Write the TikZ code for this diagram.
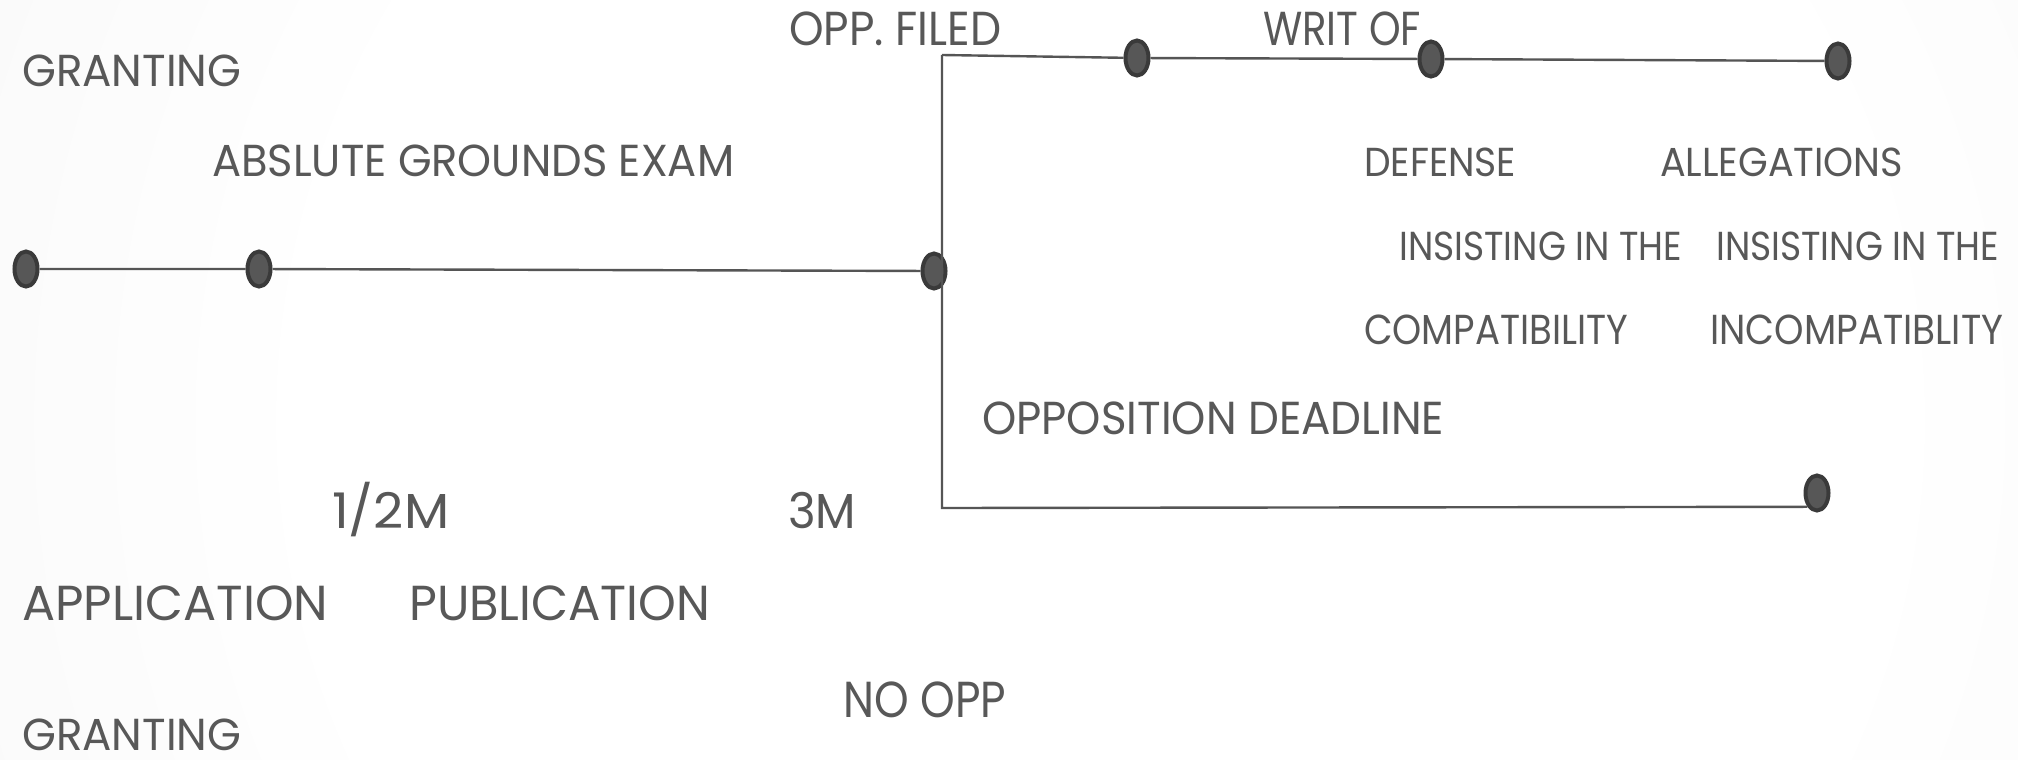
\documentclass[tikz,border=0pt]{standalone}
\usepackage{fontspec}
\setmainfont{Poppins}
\usepackage{graphicx}
\usetikzlibrary{shapes.geometric}

\definecolor{txtgray}{HTML}{585858}
\definecolor{linegray}{HTML}{555555}
\definecolor{dotfill}{HTML}{575757}
\definecolor{dotrim}{HTML}{3A3A3A}
\definecolor{bgedge}{HTML}{E6E6E6}

% soft light background glow
\pgfdeclareradialshading{bgglow}{\pgfpoint{0bp}{0bp}}{color(0bp)=(white); color(14bp)=(white); color(50bp)=(bgedge)}

% label text stretched to a given width and cap height (pt)
\newcommand\fitted[3]{\resizebox{#1pt}{#2pt}{\vphantom{M}\smash{#3}}}

\begin{document}
\begin{tikzpicture}[x=1pt,y=-1pt,
  dot/.style={ellipse, draw=dotrim, fill=dotfill, line width=4pt,
              minimum width=23pt, minimum height=35pt, inner sep=0pt},
  conn/.style={draw=linegray, line width=2.4pt},
  lbl/.style={anchor=base west, inner sep=0pt, text=txtgray}]

% page and background
\useasboundingbox (0,0) rectangle (2018,760);
\begin{scope}
  \clip (0,0) rectangle (2018,760);
  \fill[bgedge] (0,0) rectangle (2018,760);
  \shade[shading=bgglow] (1100,420) circle (1400);
\end{scope}

% timeline points
\node[dot] (app) at (26,269) {};
\node[dot] (pub) at (259,269) {};
\node[dot] (dl)  at (934,271) {};
\node[dot] (opA) at (1137,58) {};
\node[dot] (opB) at (1431,59) {};
\node[dot] (opC) at (1838,61) {};
\node[dot] (noE) at (1817,493) {};
\coordinate (fork)  at (942,55);
\coordinate (forkb) at (942,508);

% connectors
\draw[conn] (app) -- (pub) -- (dl);
\draw[conn] (fork) -- (opA) -- (opB) -- (opC);
\draw[conn] (fork) -- (forkb) -- (noE.south west);

% labels
\node[lbl] (gr1)  at (22,87)    {\fitted{219}{31}{GRANTING}};
\node[lbl] (abs)  at (212,176)  {\fitted{522}{31}{ABSLUTE GROUNDS EXAM}};
\node[lbl] (oppf) at (789,46)   {\fitted{212}{33}{OPP. FILED}};
\node[lbl] (writ) at (1263,46)  {\fitted{158}{33}{WRIT OF}};
\node[lbl] (def)  at (1364,176) {\fitted{152}{28}{DEFENSE}};
\node[lbl] (all)  at (1660,176) {\fitted{243}{28}{ALLEGATIONS}};
\node[lbl] (ins1) at (1399,260) {\fitted{283}{28}{INSISTING IN THE}};
\node[lbl] (ins2) at (1716,260) {\fitted{283}{28}{INSISTING IN THE}};
\node[lbl] (comp) at (1364,344) {\fitted{264}{29}{COMPATIBILITY}};
\node[lbl] (inc)  at (1710,344) {\fitted{293}{29}{INCOMPATIBLITY}};
\node[lbl] (odl)  at (982,434)  {\fitted{462}{32}{OPPOSITION DEADLINE}};
\node[lbl] (half) at (332,528)  {\fitted{117}{34}{1/2M}};
\node[lbl] (three) at (788,528) {\fitted{68}{34}{3M}};
\node[lbl] (appl) at (22,620)   {\fitted{306}{34}{APPLICATION}};
\node[lbl] (publ) at (409,620)  {\fitted{301}{34}{PUBLICATION}};
\node[lbl] (noop) at (843,717)  {\fitted{163}{35}{NO OPP}};
\node[lbl] (gr2)  at (22,750)   {\fitted{219}{31}{GRANTING}};
\end{tikzpicture}
\end{document}
